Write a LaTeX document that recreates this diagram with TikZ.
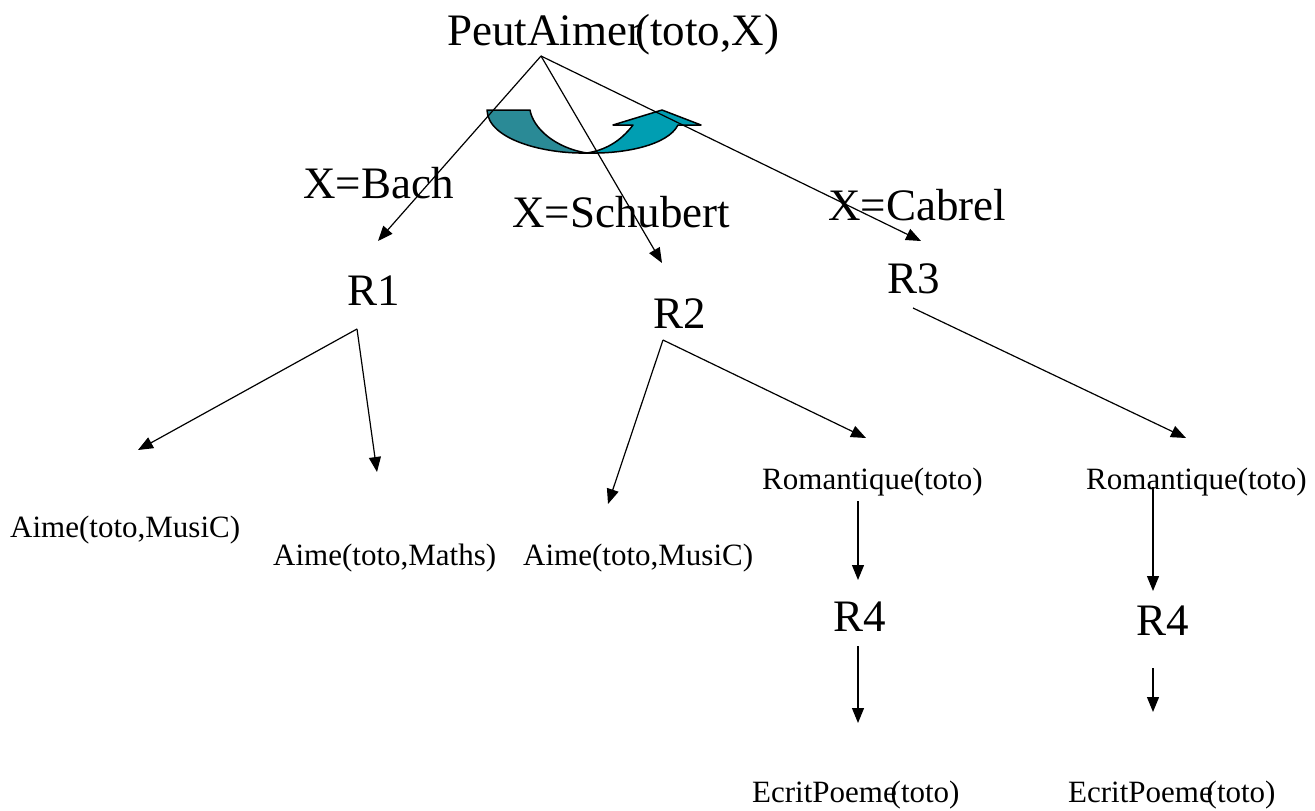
\documentclass[tikz,border=0pt]{standalone}
\usepackage{fontspec}
\setmainfont{Liberation Serif}
\usetikzlibrary{arrows.meta}
\definecolor{fondfleche}{RGB}{42,138,150}
\definecolor{facefleche}{RGB}{0,158,178}

\begin{document}
\begin{tikzpicture}[x=1pt,y=-1pt,
	grand/.style={anchor=base west,inner sep=0pt,font=\fontsize{45}{54}\selectfont},
	petit/.style={anchor=base west,inner sep=0pt,font=\fontsize{31}{37}\selectfont},
	fleche/.style={line width=1.2pt,-{Triangle[length=15pt,width=12pt]}}]
	\useasboundingbox (0,0) rectangle (1315,811);
	% fleche courbe (retour arriere)
	\filldraw [fill=fondfleche,line width=1.5pt,line join=round] (487,110) -- (530,110) .. controls (533,128) and (555,148) .. (587,153) .. controls (545,154) and (488,140) .. (487,110) -- cycle;
	\filldraw [fill=facefleche,line width=1.5pt,line join=round] (587,153) .. controls (625,154) and (668,145) .. (678,125) -- (701,125) -- (662,110) -- (613,125) -- (633,125) .. controls (620,142) and (605,150) .. (587,153) -- cycle;
	% textes
	\node [grand] (but) at (447,45) {PeutAimer\kern-.15em(toto,X)};
	\node [grand] (bach) at (303,198) {X=Bach};
	\node [grand] (schubert) at (512,227) {X=Schubert};
	\node [grand] (cabrel) at (828,220) {X=Cabrel};
	\node [grand] (r1) at (347,305) {R1};
	\node [grand] (r2) at (653,328) {R2};
	\node [grand] (r3) at (887,293) {R3};
	\node [petit] (musique1) at (10,537) {Aime(toto,MusiC)};
	\node [petit] (maths) at (273,565) {Aime(toto,Maths)};
	\node [petit] (musique2) at (523,565) {Aime(toto,MusiC)};
	\node [petit] (roman1) at (762,489) {Romantique(toto)};
	\node [petit] (roman2) at (1086,489) {Romantique(toto)};
	\node [grand] (r4a) at (833,631) {R4};
	\node [grand] (r4b) at (1136,635) {R4};
	\node [petit] (poeme1) at (752,802) {EcritPoeme\kern-.2em(toto)};
	\node [petit] (poeme2) at (1068,802) {EcritPoeme\kern-.2em(toto)};
	% extremites des fleches
	\coordinate (o) at (541,56);
	\coordinate (o1) at (378,241);
	\coordinate (o2) at (662,263);
	\coordinate (o3) at (921,241);
	\coordinate (p) at (357,329);
	\coordinate (p1) at (138,450);
	\coordinate (p2) at (377,472);
	\coordinate (q) at (663,340);
	\coordinate (q1) at (608,504);
	\coordinate (q2) at (866,438);
	\coordinate (s) at (913,308);
	\coordinate (s1) at (1186,438);
	\coordinate (a) at (858,501);
	\coordinate (a1) at (858,580);
	\coordinate (b) at (858,646);
	\coordinate (b1) at (858,723);
	\coordinate (c) at (1153,487);
	\coordinate (c1) at (1153,591);
	\coordinate (d) at (1153,668);
	\coordinate (d1) at (1153,712);
	% fleches
	\draw [fleche] (o) -- (o1);
	\draw [fleche] (o) -- (o2);
	\draw [fleche] (o) -- (o3);
	\draw [fleche] (p) -- (p1);
	\draw [fleche] (p) -- (p2);
	\draw [fleche] (q) -- (q1);
	\draw [fleche] (q) -- (q2);
	\draw [fleche] (s) -- (s1);
	\draw [fleche] (a) -- (a1);
	\draw [fleche] (b) -- (b1);
	\draw [fleche] (c) -- (c1);
	\draw [fleche] (d) -- (d1);
\end{tikzpicture}
\end{document}
